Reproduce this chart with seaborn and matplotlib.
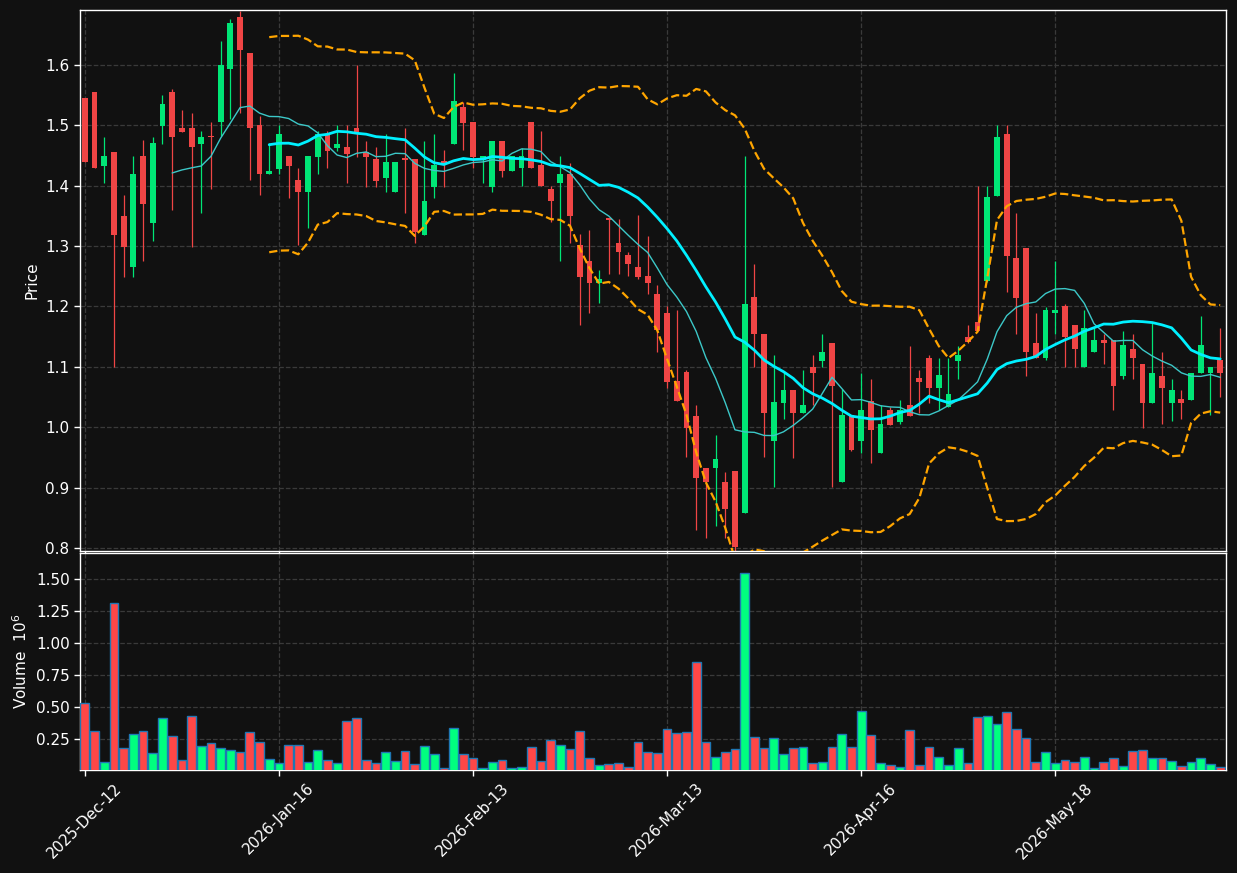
import numpy as np
import pandas as pd
import matplotlib
matplotlib.use("Agg")
import matplotlib.pyplot as plt
import seaborn as sns

# OHLC (one candle per trading session)
opens = [1.546, 1.556, 1.433, 1.455, 1.350, 1.265, 1.450, 1.339, 1.499, 1.556,
         1.496, 1.496, 1.469, 1.481, 1.505, 1.594, 1.680, 1.620, 1.501, 1.419,
         1.428, 1.449, 1.410, 1.389, 1.448, 1.485, 1.463, 1.464, 1.495, 1.455,
         1.444, 1.413, 1.389, 1.444, 1.444, 1.319, 1.398, 1.440, 1.469, 1.530,
         1.505, 1.442, 1.398, 1.474, 1.424, 1.429, 1.505, 1.435, 1.395, 1.404,
         1.419, 1.301, 1.276, 1.239, 1.345, 1.305, 1.286, 1.266, 1.250, 1.220,
         1.190, 1.076, 1.091, 1.019, 0.933, 0.932, 0.910, 0.928, 0.858, 1.215,
         1.154, 0.977, 1.040, 1.061, 1.023, 1.100, 1.109, 1.140, 0.909, 1.020,
         0.977, 1.044, 0.957, 1.029, 1.009, 1.036, 1.081, 1.115, 1.065, 1.034,
         1.109, 1.150, 1.175, 1.243, 1.383, 1.486, 1.281, 1.296, 1.140, 1.115,
         1.189, 1.200, 1.170, 1.100, 1.124, 1.145, 1.145, 1.085, 1.130, 1.105,
         1.040, 1.085, 1.040, 1.046, 1.045, 1.090, 1.090, 1.111]
highs = [1.546, 1.556, 1.481, 1.455, 1.385, 1.450, 1.475, 1.481, 1.551, 1.560,
         1.525, 1.520, 1.491, 1.505, 1.640, 1.676, 1.690, 1.620, 1.516, 1.470,
         1.500, 1.449, 1.429, 1.449, 1.491, 1.491, 1.500, 1.500, 1.600, 1.474,
         1.464, 1.485, 1.439, 1.495, 1.444, 1.474, 1.485, 1.459, 1.587, 1.539,
         1.505, 1.449, 1.474, 1.474, 1.449, 1.463, 1.505, 1.491, 1.400, 1.449,
         1.438, 1.320, 1.326, 1.261, 1.345, 1.345, 1.290, 1.351, 1.316, 1.235,
         1.200, 1.194, 1.095, 1.036, 0.933, 0.987, 0.926, 0.928, 1.450, 1.270,
         1.154, 1.120, 1.093, 1.061, 1.095, 1.120, 1.155, 1.140, 1.064, 1.020,
         1.090, 1.080, 1.036, 1.034, 1.045, 1.135, 1.095, 1.120, 1.115, 1.115,
         1.135, 1.169, 1.400, 1.400, 1.500, 1.500, 1.355, 1.296, 1.189, 1.199,
         1.275, 1.204, 1.170, 1.194, 1.165, 1.155, 1.145, 1.160, 1.155, 1.105,
         1.174, 1.125, 1.080, 1.061, 1.090, 1.185, 1.100, 1.165]
lows = [1.439, 1.429, 1.404, 1.100, 1.248, 1.248, 1.275, 1.309, 1.469, 1.360,
        1.489, 1.299, 1.355, 1.394, 1.483, 1.510, 1.520, 1.409, 1.385, 1.419,
        1.419, 1.379, 1.301, 1.330, 1.419, 1.429, 1.458, 1.404, 1.448, 1.398,
        1.398, 1.389, 1.389, 1.355, 1.305, 1.319, 1.379, 1.398, 1.469, 1.459,
        1.430, 1.404, 1.389, 1.414, 1.424, 1.399, 1.429, 1.399, 1.340, 1.275,
        1.305, 1.169, 1.190, 1.205, 1.254, 1.254, 1.250, 1.245, 1.220, 1.124,
        1.065, 1.044, 0.950, 0.830, 0.817, 0.837, 0.817, 0.790, 0.858, 1.099,
        0.950, 0.901, 1.014, 0.949, 1.023, 1.036, 1.100, 0.901, 0.909, 0.961,
        0.957, 0.940, 0.957, 1.003, 1.005, 1.018, 1.023, 1.040, 1.029, 1.034,
        1.080, 1.139, 1.160, 1.240, 1.383, 1.224, 1.155, 1.085, 1.115, 1.111,
        1.155, 1.100, 1.100, 1.100, 1.124, 1.105, 1.029, 1.080, 1.080, 0.999,
        1.040, 1.005, 1.010, 1.014, 1.045, 1.090, 1.020, 1.050]
closes = [1.439, 1.429, 1.450, 1.319, 1.299, 1.420, 1.369, 1.470, 1.536, 1.480,
          1.489, 1.464, 1.481, 1.480, 1.600, 1.670, 1.624, 1.495, 1.419, 1.425,
          1.486, 1.433, 1.389, 1.449, 1.485, 1.458, 1.469, 1.453, 1.489, 1.448,
          1.408, 1.439, 1.439, 1.443, 1.324, 1.375, 1.434, 1.438, 1.540, 1.504,
          1.448, 1.449, 1.474, 1.424, 1.449, 1.449, 1.429, 1.399, 1.374, 1.419,
          1.349, 1.249, 1.239, 1.245, 1.344, 1.290, 1.271, 1.249, 1.239, 1.161,
          1.075, 1.044, 0.998, 0.916, 0.910, 0.947, 0.865, 0.802, 1.204, 1.154,
          1.024, 1.041, 1.061, 1.023, 1.036, 1.090, 1.125, 1.069, 1.020, 0.963,
          1.029, 0.996, 1.005, 1.003, 1.029, 1.018, 1.075, 1.065, 1.086, 1.055,
          1.120, 1.141, 1.160, 1.381, 1.481, 1.284, 1.214, 1.124, 1.115, 1.194,
          1.194, 1.149, 1.130, 1.165, 1.145, 1.140, 1.069, 1.136, 1.115, 1.040,
          1.090, 1.065, 1.061, 1.040, 1.090, 1.136, 1.100, 1.090]
# volume in millions
volumes = [0.531, 0.3125, 0.070, 1.3125, 0.180, 0.289, 0.3125, 0.141, 0.414, 0.273,
           0.086, 0.430, 0.195, 0.219, 0.180, 0.164, 0.148, 0.305, 0.227, 0.094,
           0.0625, 0.203, 0.203, 0.070, 0.164, 0.086, 0.0625, 0.391, 0.414, 0.086,
           0.0625, 0.148, 0.078, 0.156, 0.055, 0.195, 0.133, 0.023, 0.336, 0.133,
           0.102, 0.023, 0.070, 0.086, 0.023, 0.031, 0.1875, 0.078, 0.242, 0.203,
           0.172, 0.3125, 0.102, 0.047, 0.055, 0.0625, 0.031, 0.227, 0.148, 0.141,
           0.328, 0.297, 0.305, 0.852, 0.227, 0.109, 0.148, 0.172, 1.547, 0.266,
           0.180, 0.258, 0.133, 0.180, 0.1875, 0.0625, 0.070, 0.1875, 0.289, 0.1875,
           0.469, 0.281, 0.0625, 0.047, 0.031, 0.320, 0.047, 0.1875, 0.109, 0.047,
           0.180, 0.0625, 0.422, 0.430, 0.367, 0.461, 0.328, 0.258, 0.070, 0.148,
           0.0625, 0.086, 0.070, 0.109, 0.023, 0.070, 0.102, 0.039, 0.156, 0.164,
           0.102, 0.102, 0.078, 0.039, 0.070, 0.102, 0.055, 0.031]

tick_pos = [0, 20, 40, 60, 80, 100]
tick_labels = ["2025-Dec-12", "2026-Jan-16", "2026-Feb-13",
               "2026-Mar-13", "2026-Apr-16", "2026-May-18"]

BG = "#111111"
UP, DOWN = "#00e676", "#f04545"
VUP, VDOWN = "#00ff7f", "#ff4747"

df = pd.DataFrame({"o": opens, "h": highs, "l": lows, "c": closes, "v": volumes})
df["idx"] = np.arange(len(df))
df["ma10"] = df["c"].rolling(10).mean()
df["ma20"] = df["c"].rolling(20).mean()
sd = df["c"].rolling(20).std(ddof=0)
df["bb_up"] = df["ma20"] + 2 * sd
df["bb_lo"] = df["ma20"] - 2 * sd
up = df["c"] >= df["o"]

sns.set_theme(style="dark", rc={
    "figure.facecolor": BG, "axes.facecolor": BG, "axes.edgecolor": "white",
    "axes.labelcolor": "white", "xtick.color": "white", "ytick.color": "white",
    "text.color": "white", "grid.color": "#3a3a3a", "grid.linestyle": "--",
    "axes.grid": True, "xtick.bottom": True, "ytick.left": True,
})
plt.rcParams["font.family"] = ["DejaVu Sans"]

fig = plt.figure(figsize=(12.37, 8.73), dpi=100)
ax = fig.add_axes([80 / 1237, 1 - 551 / 873, 1146 / 1237, 541 / 873])
axv = fig.add_axes([80 / 1237, 1 - 770 / 873, 1146 / 1237, 217 / 873], sharex=ax)

# candles
ccol = np.where(up, UP, DOWN)
ax.vlines(df["idx"], df["l"], df["h"], colors=ccol, lw=0.9, zorder=2)
body_lo = np.minimum(df["o"], df["c"])
body_h = np.maximum((df["c"] - df["o"]).abs(), 0.003)
ax.bar(df["idx"], body_h, bottom=body_lo, width=0.6, color=ccol, lw=0, zorder=3)

# moving averages and bands
sns.lineplot(data=df, x="idx", y="ma10", ax=ax, color="#3cc8c8", lw=1, zorder=4)
sns.lineplot(data=df, x="idx", y="ma20", ax=ax, color="#00f0ff", lw=2, zorder=4)
sns.lineplot(data=df, x="idx", y="bb_up", ax=ax, color="#ffa500", lw=1.6, ls="--", zorder=4)
sns.lineplot(data=df, x="idx", y="bb_lo", ax=ax, color="#ffa500", lw=1.6, ls="--", zorder=4)

ax.set_ylim(0.795, 1.691)
ax.set_xlim(-0.5, 117.6)
ax.set_yticks(np.arange(0.8, 1.61, 0.1))
ax.set_yticklabels([f"{t:.1f}" for t in np.arange(0.8, 1.61, 0.1)], fontsize=11)
ax.set_ylabel("Price", fontsize=11)
ax.set_xlabel("")
ax.tick_params(axis="x", labelbottom=False, length=0)

# volume
vcol = np.where(up, VUP, VDOWN)
axv.bar(df["idx"], df["v"], width=0.9, color=vcol, edgecolor="#1f77b4", lw=1, zorder=3)
axv.set_ylim(0.01, 1.70)
vt = np.arange(0.25, 1.51, 0.25)
axv.set_yticks(vt)
axv.set_yticklabels([f"{t:.2f}" for t in vt], fontsize=11)
axv.set_ylabel("Volume  $10^6$", fontsize=11)
axv.set_xticks(tick_pos)
axv.set_xticklabels(tick_labels, rotation=45, ha="center", fontsize=11)

for a in (ax, axv):
    a.grid(True, color="#3a3a3a", linestyle="--", lw=0.9)
    for s in a.spines.values():
        s.set_color("white")
        s.set_linewidth(1)
    a.tick_params(colors="white", length=4, width=1)

fig.savefig("out.png", dpi=100, facecolor=BG)
